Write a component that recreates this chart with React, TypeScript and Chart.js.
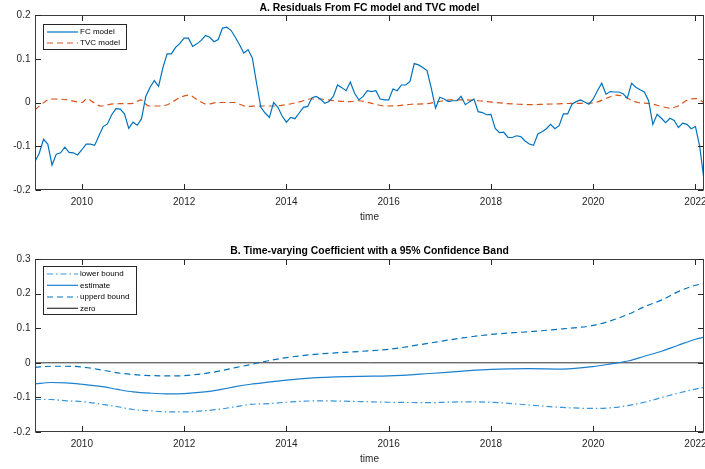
import React, { useEffect, useRef } from "react";
import { Chart, registerables } from "chart.js";

Chart.register(...registerables);

const FONT = '"Liberation Sans", Arial, Helvetica, sans-serif';
const TEXT = "#262626";

// ---------- Panel A data ----------
const fcStartYear = 2009 + 1 / 12; // first monthly observation (Feb 2009)
const fcValues = [
  -0.135, -0.116, -0.084, -0.095, -0.143, -0.118, -0.115, -0.102, -0.114, -0.115, -0.12,
  -0.108, -0.095, -0.095, -0.098, -0.076, -0.055, -0.049, -0.028, -0.014, -0.015, -0.026, -0.059,
  -0.045, -0.052, -0.037, 0.014, 0.035, 0.05, 0.037, 0.079, 0.111, 0.111, 0.126, 0.135,
  0.147, 0.147, 0.128, 0.134, 0.142, 0.153, 0.149, 0.139, 0.144, 0.17, 0.172, 0.165,
  0.149, 0.132, 0.113, 0.121, 0.102, 0.044, -0.011, -0.024, -0.034, 0.0, -0.011, -0.031,
  -0.045, -0.034, -0.037, -0.024, -0.011, -0.009, 0.011, 0.014, 0.008, -0.002, 0.002, 0.014,
  0.04, 0.034, 0.027, 0.047, 0.021, 0.006, 0.014, 0.027, 0.025, 0.027, 0.008, 0.006,
  0.006, 0.031, 0.027, 0.04, 0.04, 0.048, 0.089, 0.086, 0.08, 0.073, 0.033, -0.013,
  0.012, 0.008, 0.002, 0.004, 0.004, 0.014, -0.005, 0.002, 0.008, -0.021, -0.023, -0.028,
  -0.027, -0.059, -0.069, -0.068, -0.08, -0.08, -0.076, -0.078, -0.088, -0.095, -0.098, -0.072,
  -0.067, -0.06, -0.05, -0.06, -0.053, -0.026, -0.026, -0.004, 0.002, 0.006, 0.001, -0.004,
  0.008, 0.027, 0.044, 0.019, 0.025, 0.024, 0.024, 0.02, 0.01, 0.044, 0.035, 0.029,
  0.024, 0.004, -0.05, -0.027, -0.036, -0.046, -0.036, -0.041, -0.057, -0.047, -0.05, -0.06,
  -0.055, -0.101, -0.177,
];
const fcYears = fcValues.map((_, i) => fcStartYear + i / 12);

const tvcYears = [
  2009.083, 2009.2, 2009.33, 2009.46, 2009.72, 2010.0, 2010.1, 2010.2, 2010.37, 2010.63,
  2011.0, 2011.15, 2011.31, 2011.54, 2011.67, 2011.93, 2012.09, 2012.26, 2012.45, 2012.65,
  2012.97, 2013.23, 2013.5, 2013.75, 2014.0, 2014.27, 2014.47, 2014.66, 2014.93, 2015.25,
  2015.41, 2015.67, 2015.93, 2016.19, 2016.45, 2016.71, 2016.97, 2017.23, 2017.49, 2017.75,
  2018.01, 2018.27, 2018.53, 2018.79, 2019.05, 2019.32, 2019.58, 2019.84, 2020.1, 2020.29,
  2020.45, 2020.59, 2020.75, 2020.88, 2021.14, 2021.33, 2021.5, 2021.66, 2021.85, 2022.02,
  2022.167,
];
const tvcValues = [
  -0.017, -0.005, 0.006, 0.008, 0.006, 0.0, 0.009, 0.002, -0.008, -0.003,
  -0.002, 0.006, -0.008, -0.008, -0.005, 0.012, 0.017, 0.006, -0.004, 0.0,
  0.0, -0.009, -0.008, -0.008, -0.005, 0.002, 0.008, 0.008, 0.004, 0.002,
  0.004, -0.002, -0.008, -0.007, -0.004, -0.003, 0.002, 0.006, 0.006, 0.004,
  0.001, -0.002, -0.004, -0.005, -0.004, -0.003, -0.002, -0.002, 0.002, 0.011,
  0.017, 0.014, 0.005, 0.0, -0.003, -0.009, -0.013, -0.008, 0.006, 0.009,
  0.0,
];

// ---------- Panel B data ----------
const bandYears = [
  2009.083, 2009.4, 2009.7, 2010.0, 2010.4, 2010.7, 2011.0, 2011.35, 2011.7, 2012.0,
  2012.35, 2012.65, 2013.0, 2013.3, 2013.65, 2014.0, 2014.6, 2015.45, 2016.0, 2016.8,
  2017.45, 2018.0, 2018.75, 2019.4, 2020.0, 2020.35, 2020.7, 2021.0, 2021.35, 2021.65,
  2022.0, 2022.167,
];
const lowerBound = [
  -0.106, -0.106, -0.11, -0.112, -0.12, -0.127, -0.135, -0.139, -0.142, -0.142,
  -0.139, -0.135, -0.127, -0.12, -0.118, -0.114, -0.11, -0.112, -0.114, -0.115,
  -0.113, -0.114, -0.122, -0.129, -0.132, -0.13, -0.123, -0.114, -0.1, -0.088,
  -0.076, -0.071,
];
const estimate = [
  -0.061, -0.057, -0.058, -0.062, -0.069, -0.077, -0.084, -0.088, -0.09, -0.089,
  -0.085, -0.079, -0.069, -0.062, -0.056, -0.05, -0.043, -0.039, -0.038, -0.031,
  -0.024, -0.019, -0.017, -0.018, -0.011, -0.003, 0.006, 0.019, 0.034, 0.05,
  0.068, 0.074,
];
const upperBound = [
  -0.013, -0.01, -0.01, -0.012, -0.021, -0.029, -0.034, -0.037, -0.038, -0.037,
  -0.032, -0.025, -0.014, -0.005, 0.006, 0.015, 0.025, 0.033, 0.039, 0.057,
  0.072, 0.082, 0.09, 0.098, 0.108, 0.122, 0.141, 0.162, 0.182, 0.205,
  0.224, 0.229,
];
const zeroYears = [2009.083, 2022.167];
const zeroValues = [0, 0];

// ---------- axes ----------
const xMin = 2009 + 1 / 12;
const xMax = 2022 + 2 / 12;
const xTicks = [2010, 2012, 2014, 2016, 2018, 2020, 2022];
const yTicksA = [-0.2, -0.1, 0, 0.1, 0.2];
const yTicksB = [-0.2, -0.1, 0, 0.1, 0.2, 0.3];

const titleA = "A. Residuals From FC model and TVC model";
const titleB = "B. Time-varying Coefficient with a 95% Confidence Band";
const xAxisLabel = "time";

const BLUE = "#0072BD";
const ORANGE = "#D95319";
const LIGHTBLUE = "#3796DC";
const MIDBLUE = "#1A80CF";

const pts = (xs: number[], ys: number[]) => ys.map((y, i) => ({ x: xs[i], y }));

type LegendItem = { label: string; color: string; dash: number[] };
type Deco = {
  title: string;
  titleY: number;
  legend: LegendItem[];
  box: { x: number; y: number; w: number; h: number };
  rows: number[];
  yTicks: number[];
};

function decorPlugin(d: Deco) {
  return {
    id: "decor",
    afterDraw(chart: any) {
      const ctx = chart.ctx as CanvasRenderingContext2D;
      const { left, right, top, bottom } = chart.chartArea;
      const xs = chart.scales.x;
      const ys = chart.scales.y;
      ctx.save();
      ctx.setLineDash([]);
      // box
      ctx.strokeStyle = "#3c3c3c";
      ctx.lineWidth = 1;
      const L = Math.round(left) + 0.5;
      const R = Math.round(right) - 0.5;
      const T = Math.round(top) + 0.5;
      const B = Math.round(bottom) - 0.5;
      ctx.strokeRect(L, T, R - L, B - T);
      // ticks
      const tl = 5.5;
      ctx.strokeStyle = "#262626";
      ctx.beginPath();
      xTicks.forEach((v) => {
        const px = Math.round(xs.getPixelForValue(v)) + 0.5;
        ctx.moveTo(px, B);
        ctx.lineTo(px, B - tl);
        ctx.moveTo(px, T);
        ctx.lineTo(px, T + tl);
      });
      d.yTicks.forEach((v) => {
        const py = Math.round(ys.getPixelForValue(v)) + 0.5;
        ctx.moveTo(L, py);
        ctx.lineTo(L + tl, py);
        ctx.moveTo(R, py);
        ctx.lineTo(R - tl, py);
      });
      ctx.stroke();
      // tick labels
      ctx.fillStyle = TEXT;
      ctx.font = `10px ${FONT}`;
      ctx.textAlign = "center";
      ctx.textBaseline = "middle";
      xTicks.forEach((v) => {
        ctx.fillText(String(v), xs.getPixelForValue(v), bottom + 12);
      });
      ctx.textAlign = "right";
      d.yTicks.forEach((v) => {
        ctx.fillText(String(v), left - 4.5, ys.getPixelForValue(v));
      });
      // axis label
      ctx.textAlign = "center";
      ctx.fillText(xAxisLabel, (left + right) / 2, bottom + 27);
      // title
      ctx.fillStyle = "#000";
      ctx.font = `bold 10.4px ${FONT}`;
      ctx.fillText(d.title, (left + right) / 2, d.titleY);
      // legend
      const b = d.box;
      ctx.fillStyle = "#fff";
      ctx.fillRect(b.x, b.y, b.w, b.h);
      ctx.strokeStyle = "#262626";
      ctx.lineWidth = 1;
      ctx.strokeRect(b.x + 0.5, b.y + 0.5, b.w, b.h);
      ctx.font = `8px ${FONT}`;
      ctx.textAlign = "left";
      d.legend.forEach((it, i) => {
        const y = d.rows[i];
        ctx.strokeStyle = it.color;
        ctx.lineWidth = 1.2;
        ctx.setLineDash(it.dash);
        ctx.beginPath();
        ctx.moveTo(b.x + 4, y);
        ctx.lineTo(b.x + 35, y);
        ctx.stroke();
        ctx.setLineDash([]);
        ctx.fillStyle = "#000";
        ctx.fillText(it.label, b.x + 37, y);
      });
      ctx.restore();
    },
  };
}

function baseOptions(yMin: number, yMax: number, padTop: number, xHeight: number) {
  return {
    responsive: false,
    animation: false,
    layout: { padding: { top: padTop, right: 1, left: 0, bottom: 0 } },
    plugins: {
      legend: { display: false },
      title: { display: false },
      tooltip: { enabled: false },
    },
    elements: { point: { radius: 0 }, line: { borderCapStyle: "butt" } },
    scales: {
      x: {
        type: "linear",
        min: xMin,
        max: xMax,
        ticks: { display: false },
        grid: { display: false },
        border: { display: false },
        afterFit: (s: any) => {
          s.height = xHeight;
        },
      },
      y: {
        min: yMin,
        max: yMax,
        ticks: { display: false },
        grid: { display: false },
        border: { display: false },
        afterFit: (s: any) => {
          s.width = 35;
        },
      },
    },
  } as any;
}

export default function App() {
  const refA = useRef<HTMLCanvasElement>(null);
  const refB = useRef<HTMLCanvasElement>(null);

  useEffect(() => {
    const chartA = new Chart(refA.current!, {
      type: "line",
      data: {
        datasets: [
          {
            label: "FC model",
            data: pts(fcYears, fcValues),
            borderColor: BLUE,
            borderWidth: 1.2,
            tension: 0,
          },
          {
            label: "TVC model",
            data: pts(tvcYears, tvcValues),
            borderColor: ORANGE,
            borderWidth: 1.2,
            borderDash: [6, 4],
            cubicInterpolationMode: "monotone",
          },
        ],
      },
      options: baseOptions(-0.2, 0.2, 15, 42),
      plugins: [
        decorPlugin({
          title: titleA,
          titleY: 8.5,
          legend: [
            { label: "FC model", color: BLUE, dash: [] },
            { label: "TVC model", color: ORANGE, dash: [6, 4] },
          ],
          box: { x: 43, y: 24, w: 83, h: 25 },
          rows: [32, 43],
          yTicks: yTicksA,
        }),
      ],
    } as any);

    const chartB = new Chart(refB.current!, {
      type: "line",
      data: {
        datasets: [
          {
            label: "lower bound",
            data: pts(bandYears, lowerBound),
            borderColor: LIGHTBLUE,
            borderWidth: 1.2,
            borderDash: [6, 3, 1.5, 3],
            cubicInterpolationMode: "monotone",
          },
          {
            label: "estimate",
            data: pts(bandYears, estimate),
            borderColor: MIDBLUE,
            borderWidth: 1.2,
            cubicInterpolationMode: "monotone",
          },
          {
            label: "upperd bound",
            data: pts(bandYears, upperBound),
            borderColor: BLUE,
            borderWidth: 1.2,
            borderDash: [6, 4],
            cubicInterpolationMode: "monotone",
          },
          {
            label: "zero",
            data: pts(zeroYears, zeroValues),
            borderColor: "#333333",
            borderWidth: 1,
          },
        ],
      },
      options: baseOptions(-0.2, 0.3, 27, 37),
      plugins: [
        decorPlugin({
          title: titleB,
          titleY: 18.7,
          legend: [
            { label: "lower bound", color: LIGHTBLUE, dash: [6, 3, 1.5, 3] },
            { label: "estimate", color: MIDBLUE, dash: [] },
            { label: "upperd bound", color: BLUE, dash: [6, 4] },
            { label: "zero", color: "#333333", dash: [] },
          ],
          box: { x: 43, y: 34, w: 93, h: 48 },
          rows: [42, 53.3, 65, 76.3],
          yTicks: yTicksB,
        }),
      ],
    } as any);

    return () => {
      chartA.destroy();
      chartB.destroy();
    };
  }, []);

  return (
    <div
      style={{
        position: "absolute",
        left: 0,
        top: 0,
        width: 705,
        height: 469,
        background: "#fff",
        overflow: "hidden",
      }}
    >
      <canvas
        ref={refA}
        width={705}
        height={232}
        style={{ position: "absolute", left: 0, top: 0, display: "block" }}
      />
      <canvas
        ref={refB}
        width={705}
        height={237}
        style={{ position: "absolute", left: 0, top: 232, display: "block" }}
      />
    </div>
  );
}
